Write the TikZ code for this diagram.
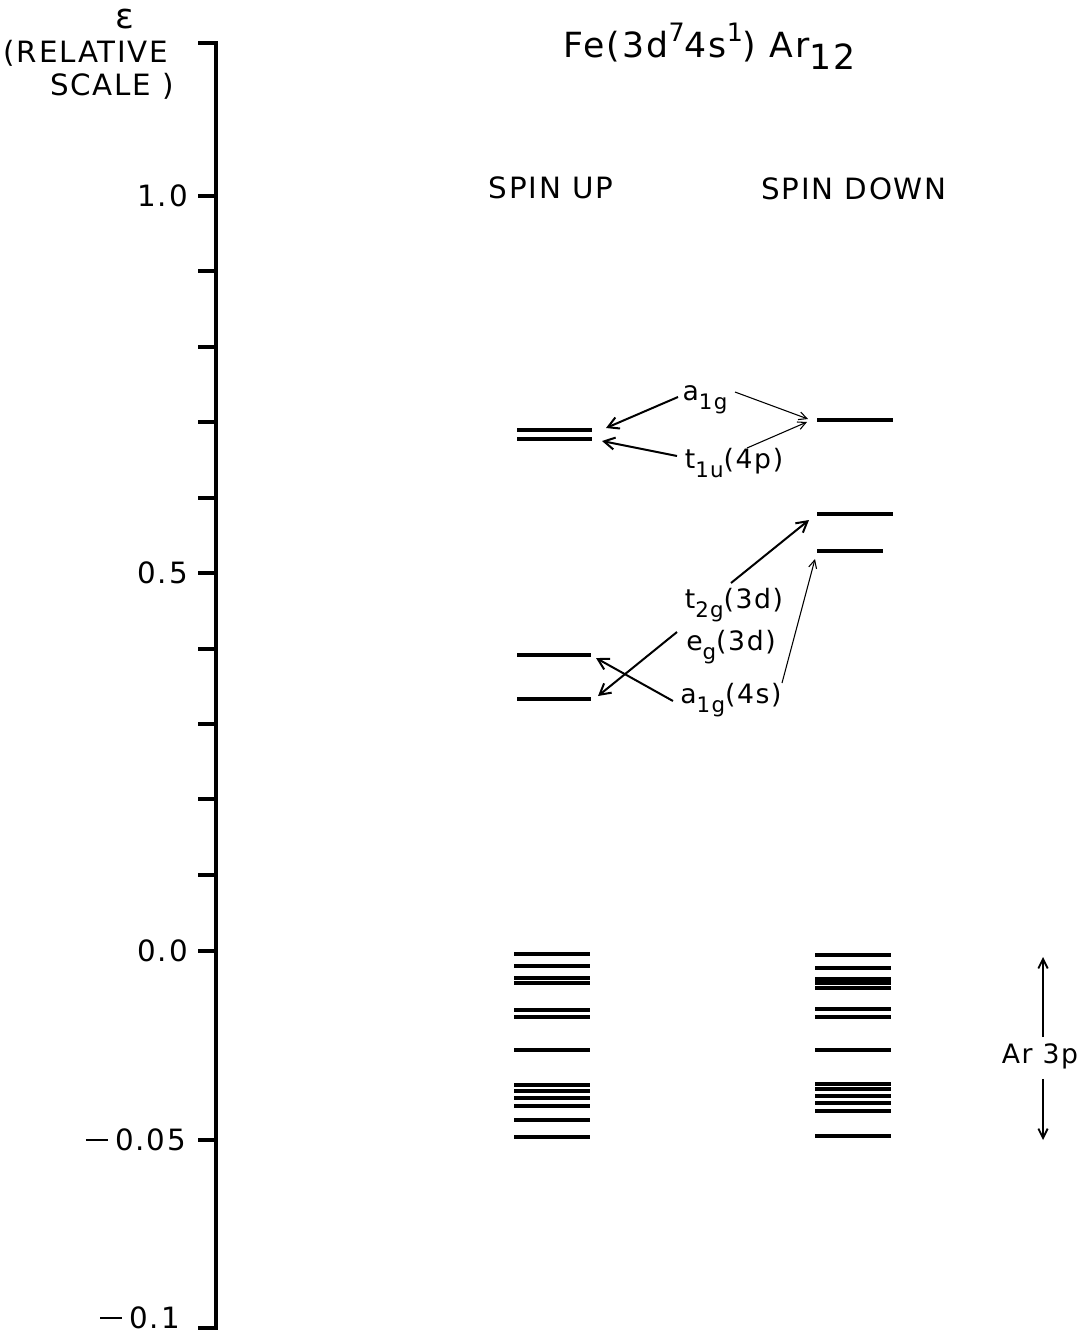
\documentclass[tikz,border=0pt]{standalone}
\usepackage{fontspec}
\setmainfont{DejaVu Sans}[LetterSpace=6]
\usetikzlibrary{arrows.meta}
\newcommand\mysb[1]{\raisebox{-0.6ex}{\fontsize{16}{16}\selectfont #1}}
\newcommand\mysp[1]{\raisebox{0.8ex}{\fontsize{19}{19}\selectfont #1}}
\newcommand\mydash{\rule[0.32em]{0.75em}{1.6pt}\hspace{0.25em}}
\begin{document}
\begin{tikzpicture}[x=0.75pt,y=-0.75pt,
 lvl/.style={line width=2.3pt},
 axisline/.style={line width=2.3pt},
 lab/.style={inner sep=0pt, font=\fontsize{22}{25}\selectfont},
 slab/.style={inner sep=0pt, font=\fontsize{20}{23}\selectfont},
 thickarr/.style={line width=1.5pt,-{Straight Barb[length=8pt,width=9pt]}},
 thinarr/.style={line width=0.8pt,-{Straight Barb[length=6pt,width=6pt]}},
 rangearr/.style={line width=1pt,-{Straight Barb[length=7pt,width=7pt,line width=1.4pt]}},
]
\useasboundingbox (0,0) rectangle (1084,1340);
% axis
\draw[axisline] (198,43) -- (216,43) -- (216,1328) -- (198,1328);
\foreach \yy in {196,271,347,422,498,573,649,724,799,875,951,1140}
  \draw[axisline] (198,\yy) -- (216,\yy);
\node[lab,anchor=east] (t10) at (188,196) {1.0};
\node[lab,anchor=east] (t05) at (188,573) {0.5};
\node[lab,anchor=east] (t00) at (188,951) {0.0};
\node[lab,anchor=east] (tm05) at (186,1140) {\mydash0.05};
\node[lab,anchor=east] (tm10) at (180,1318) {\mydash0.1};
\node[lab,font=\fontsize{26}{28}\selectfont] (eps) at (125,19) {ε};
\node[lab] (rel) at (86,53) {(RELATIVE};
\node[lab] (scl) at (112,86) {SCALE )};
% titles
\node[lab,font=\fontsize{26}{29}\selectfont,anchor=base west] (title) at (563,57) {Fe(3d\mysp{7}4s\mysp{1}) Ar\raisebox{-0.65ex}{12}};
\node[lab] (up) at (551,188) {SPIN UP};
\node[lab] (down) at (854,189) {SPIN DOWN};
% spin up levels
\draw[lvl] (517,430) -- (592,430);
\draw[lvl] (517,439) -- (592,439);
\draw[lvl] (517,655) -- (591,655);
\draw[lvl] (517,699) -- (591,699);
\foreach \yy in {954,966,978,983,1010,1017,1050,1085,1091,1098,1106,1120,1137}
  \draw[lvl] (514,\yy) -- (590,\yy);
% spin down levels
\draw[line width=3pt] (817,420) -- (893,420);
\draw[lvl] (817,514) -- (893,514);
\draw[lvl] (817,551) -- (883,551);
\foreach \yy in {955,968,979,983,988,1009,1017,1050,1084,1089,1096,1103,1111,1136}
  \draw[lvl] (815,\yy) -- (891,\yy);
% labels
\node[slab] (a1g) at (705,400) {a\mysb{1g}};
\node[slab] (t1u) at (734,463) {t\mysb{1u}(4p)};
\node[slab] (t2g) at (734,605) {t\mysb{2g}(3d)};
\node[slab] (eg) at (731,647) {e\mysb{g}(3d)};
\node[slab] (a1g4s) at (731,700) {a\mysb{1g}(4s)};
\node[slab] (ar3p) at (1040,1056) {Ar 3p};
% target coordinates
\coordinate (pUa) at (606,428);
\coordinate (pUb) at (602,441);
\coordinate (pDa) at (808,419);
\coordinate (pDb) at (807,422);
\coordinate (pD58) at (809,520);
\coordinate (pD53) at (815,559);
\coordinate (pU39) at (596,658);
\coordinate (pU33) at (598,696);
\coordinate (arTop) at (1043,957);
\coordinate (arBot) at (1043,1140);
% arrows
\draw[thickarr] (678,397) -- (pUa);
\draw[thinarr] (735,392) -- (pDa);
\draw[thickarr] (677,456) -- (pUb);
\draw[thinarr] (747,448) -- (pDb);
\draw[thickarr] (731,583) -- (pD58);
\draw[thickarr] (677,632) -- (pU33);
\draw[thickarr] (673,701) -- (pU39);
\draw[thinarr] (782,683) -- (pD53);
\draw[rangearr] (ar3p.north -| arTop) ++(0,-6) -- (arTop);
\draw[rangearr] (ar3p.south -| arBot) ++(0,10) -- (arBot);
\end{tikzpicture}
\end{document}
